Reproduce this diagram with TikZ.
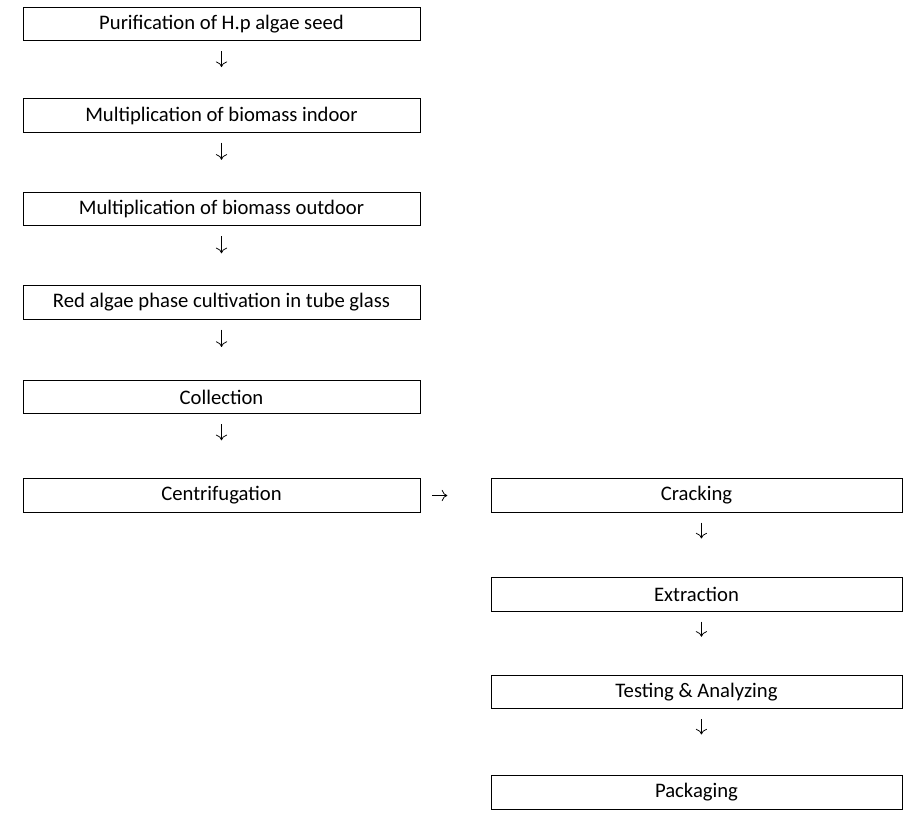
\documentclass[tikz,border=0pt]{standalone}
\usepackage{fontspec}
\setmainfont{Carlito}
\usetikzlibrary{arrows.meta}
\begin{document}
\begin{tikzpicture}[
            x = 0.025cm, y = -0.025cm, % one unit per reference pixel
            > = {To[length=1.4mm,width=2.8mm]},
            stepbox/.style = {draw, line width=0.6pt, minimum height=0.84cm,
                              inner sep=0pt, font=\fontsize{14.7}{16}\selectfont},
            leftbox/.style = {stepbox, minimum width=9.925cm},
            rightbox/.style = {stepbox, minimum width=10.275cm},
            flow/.style = {->, line width=0.55pt, shorten <=0.25cm}
        ]
        \useasboundingbox (0,0) rectangle (920,815);

        % left column
        \node[leftbox] (seed) at (221.5,24) {Purification of H.p algae seed};
        \node[leftbox] (indoor) at (221.5,115.5) {Multiplication of biomass indoor};
        \node[leftbox] (outdoor) at (221.5,209) {Multiplication of biomass outdoor};
        \node[leftbox] (red) at (221.5,302.5) {Red algae phase cultivation in tube glass};
        \node[leftbox] (collect) at (221.5,397) {Collection};
        \node[leftbox] (centri) at (221.5,495.5) {Centrifugation};

        % right column
        \node[rightbox] (crack) at (696.5,495.5) {Cracking};
        \node[rightbox] (extract) at (696.5,594.5) {Extraction};
        \node[rightbox] (test) at (696.5,692) {Testing \& Analyzing};
        \node[rightbox] (pack) at (696.5,792.5) {Packaging};

        \draw[flow, shorten >=0.78cm] (seed) -- (indoor);
        \draw[flow, shorten >=0.8cm] (indoor) -- (outdoor);
        \draw[flow, shorten >=0.8cm] (outdoor) -- (red);
        \draw[flow, shorten >=0.82cm] (red) -- (collect);
        \draw[flow, shorten >=0.95cm] (collect) -- (centri);
        \draw[flow, shorten <=0.3cm, shorten >=1.08cm] (centri) -- (crack);
        \draw[flow, shorten >=0.97cm] ([xshift=3.5pt]crack.south) -- ([xshift=3.5pt]extract.north);
        \draw[flow, shorten >=0.95cm] ([xshift=3.5pt]extract.south) -- ([xshift=3.5pt]test.north);
        \draw[flow, shorten >=1.02cm] ([xshift=3.5pt]test.south) -- ([xshift=3.5pt]pack.north);

  \end{tikzpicture}
\end{document}
